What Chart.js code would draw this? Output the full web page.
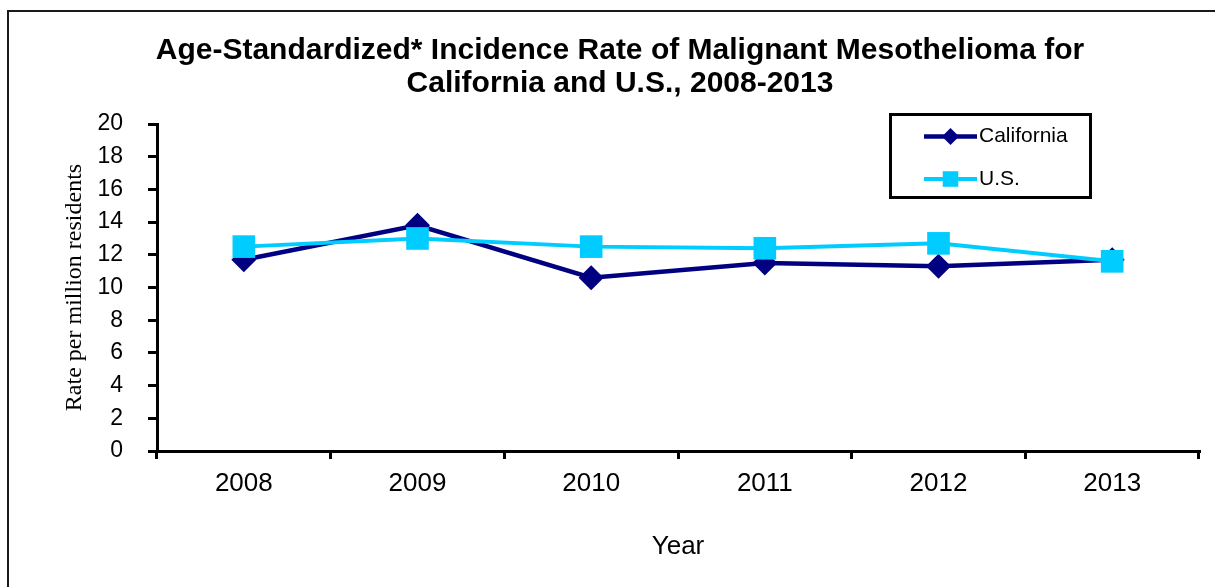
<!DOCTYPE html>
<html>
<head>
<meta charset="utf-8">
<script src="https://cdn.jsdelivr.net/npm/chart.js@4/dist/chart.umd.min.js"></script>
<style>
html,body{margin:0;padding:0;background:#fff;}
#wrap{position:relative;width:1215px;height:587px;}
canvas{display:block;}
</style>
</head>
<body>
<div id="wrap"><canvas id="c" width="1215" height="587"></canvas></div>
<script>
// ---- data ----
const years = ['2008', '2009', '2010', '2011', '2012', '2013'];
const california = [11.7, 13.8, 10.6, 11.5, 11.3, 11.7];
const us = [12.5, 13.0, 12.5, 12.4, 12.7, 11.6];
const seriesNames = ['California', 'U.S.'];
const yMin = 0, yMax = 20, yStep = 2;
const titleLines = ['Age-Standardized* Incidence Rate of Malignant Mesothelioma for', 'California and U.S., 2008-2013'];
const xTitle = 'Year';
const yTitle = 'Rate per million residents';

const NAVY = '#000080';
const CYAN = '#00CCFF';
const SANS = "'Liberation Sans', Arial, sans-serif";
const SERIF = "'Liberation Serif', 'Times New Roman', serif";

const framePlugin = {
  id: 'frame',
  beforeDraw(chart) {
    const ctx = chart.ctx;
    ctx.save();
    ctx.fillStyle = '#fff';
    ctx.fillRect(0, 0, chart.width, chart.height);
    ctx.strokeStyle = '#1a1a1a';
    ctx.lineWidth = 2;
    ctx.beginPath();
    ctx.moveTo(8, chart.height);
    ctx.lineTo(8, 11);
    ctx.lineTo(chart.width, 11);
    ctx.stroke();
    ctx.restore();
  }
};

function drawMarker(ctx, style, x, y, r, color) {
  ctx.fillStyle = color;
  ctx.beginPath();
  if (style === 'rectRot') {
    ctx.moveTo(x, y - r); ctx.lineTo(x + r, y); ctx.lineTo(x, y + r); ctx.lineTo(x - r, y);
  } else {
    const s = r * Math.SQRT1_2;
    ctx.rect(x - s, y - s, 2 * s, 2 * s);
  }
  ctx.closePath();
  ctx.fill();
}

const legendPlugin = {
  id: 'boxLegend',
  afterDraw(chart) {
    const ctx = chart.ctx;
    ctx.save();
    ctx.strokeStyle = '#000';
    ctx.lineWidth = 3;
    ctx.strokeRect(890.5, 114.5, 200, 83);
    const rows = [
      { ds: chart.data.datasets[0], y: 136.5, r: 8.5 },
      { ds: chart.data.datasets[1], y: 179, r: 11 }
    ];
    rows.forEach(row => {
      ctx.strokeStyle = row.ds.borderColor;
      ctx.lineWidth = row.ds.borderWidth;
      ctx.beginPath();
      ctx.moveTo(924, row.y);
      ctx.lineTo(977, row.y);
      ctx.stroke();
      drawMarker(ctx, row.ds.pointStyle, 950.5, row.y, row.r, row.ds.pointBackgroundColor);
      ctx.fillStyle = '#000';
      ctx.font = '21px ' + SANS;
      ctx.textAlign = 'left';
      ctx.textBaseline = 'middle';
      ctx.fillText(row.ds.label, 979, row.y);
    });
    ctx.restore();
  }
};

new Chart(document.getElementById('c'), {
  type: 'line',
  data: {
    labels: years,
    datasets: [
      {
        label: seriesNames[0],
        data: california,
        borderColor: NAVY,
        backgroundColor: NAVY,
        pointBackgroundColor: NAVY,
        pointBorderColor: NAVY,
        borderWidth: 4.5,
        pointStyle: 'rectRot',
        pointRadius: 12.5,
        pointBorderWidth: 0,
        tension: 0,
        order: 1,
        clip: false
      },
      {
        label: seriesNames[1],
        data: us,
        borderColor: CYAN,
        backgroundColor: CYAN,
        pointBackgroundColor: CYAN,
        pointBorderColor: CYAN,
        borderWidth: 4,
        pointStyle: 'rect',
        pointRadius: 16,
        pointBorderWidth: 0,
        tension: 0,
        order: 0,
        clip: false
      }
    ]
  },
  options: {
    responsive: false,
    animation: false,
    devicePixelRatio: 1,
    layout: { padding: { left: 38, right: 13, top: 0, bottom: 0 } },
    plugins: {
      legend: { display: false },
      tooltip: { enabled: false },
      title: {
        display: true,
        text: titleLines,
        color: '#000',
        font: { family: SANS, size: 30, weight: 'bold', lineHeight: 1.1 },
        padding: { top: 34, bottom: 24 }
      }
    },
    scales: {
      x: {
        offset: true,
        afterFit(scale) { scale.height = 136; },
        grid: {
          offset: true,
          drawOnChartArea: false,
          drawTicks: true,
          tickLength: 8,
          color: '#000',
          lineWidth: 3
        },
        border: { display: true, color: '#000', width: 3 },
        ticks: {
          color: '#000',
          font: { family: SANS, size: 26 },
          padding: 9,
          maxRotation: 0
        },
        title: {
          display: true,
          text: xTitle,
          color: '#000',
          font: { family: SANS, size: 26, lineHeight: 1.2 },
          padding: { top: 0, bottom: 25 }
        }
      },
      y: {
        min: yMin,
        max: yMax,
        afterFit(scale) { scale.width = 119; },
        grid: {
          drawOnChartArea: false,
          drawTicks: true,
          tickLength: 9,
          color: '#000',
          lineWidth: 3
        },
        border: { display: true, color: '#000', width: 3 },
        ticks: {
          stepSize: yStep,
          color: '#000',
          font: { family: SANS, size: 23 },
          padding: 25
        },
        title: {
          display: true,
          text: yTitle,
          color: '#000',
          font: { family: SERIF, size: 24, lineHeight: 1.2 },
          padding: { top: 22, bottom: 0 }
        }
      }
    }
  },
  plugins: [framePlugin, legendPlugin]
});
</script>
</body>
</html>
